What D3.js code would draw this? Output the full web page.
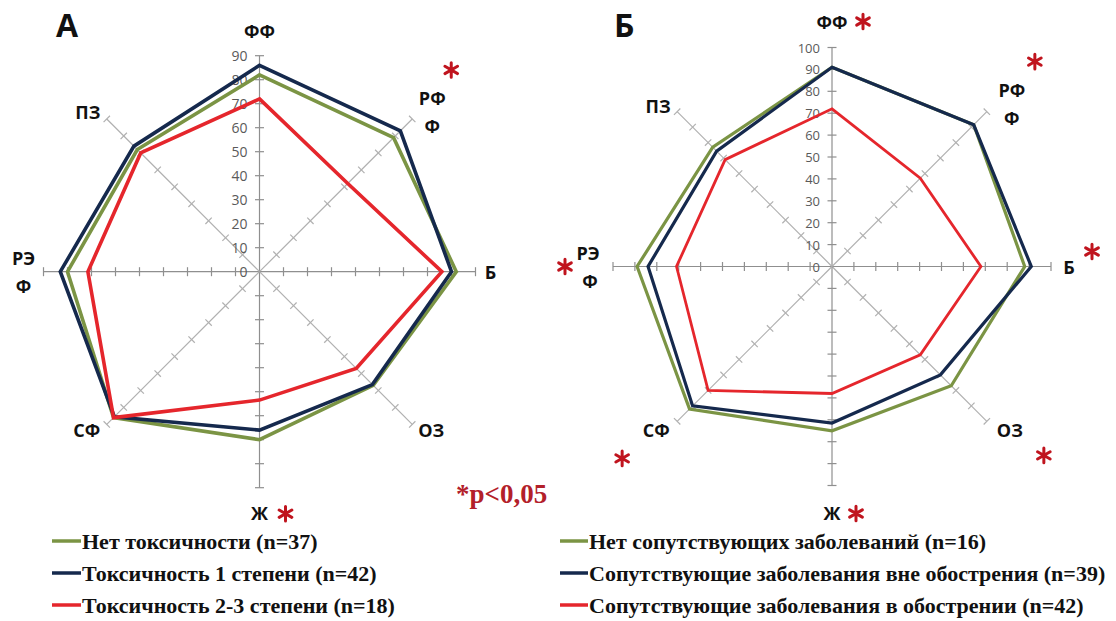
<!DOCTYPE html>
<html>
<head>
<meta charset="utf-8">
<script src="https://cdn.jsdelivr.net/npm/d3@7"></script>
<style>
  body { margin: 0; background: #ffffff; }
  svg { display: block; }
</style>
</head>
<body>
<svg id="chart" width="1116" height="621"></svg>
<script>
// Axes of the radar, clockwise from the top
const axisNames = ["ФФ", "РФФ", "Б", "ОЗ", "Ж", "СФ", "РЭФ", "ПЗ"];
const axisLabelLines = [["ФФ"], ["РФ", "Ф"], ["Б"], ["ОЗ"], ["Ж"], ["СФ"], ["РЭ", "Ф"], ["ПЗ"]];

// Panel А — toxicity groups
const toxNone = [82, 79, 82, 67, 70, 86, 80, 72];
const toxGrade1 = [86, 83, 80, 66.5, 66, 85.5, 83, 74];
const toxGrade23 = [72, 52, 76, 57, 53.5, 86, 71.5, 70];
const ticksA = [0, 10, 20, 30, 40, 50, 60, 70, 80, 90];
const legendA = ["Нет токсичности (n=37)", "Токсичность 1 степени (n=42)", "Токсичность 2-3 степени (n=18)"];
const starAxesA = ["РФФ", "Ж"];

// Panel Б — comorbidity groups
const comNone = [91, 91.5, 88, 77, 75, 92, 89, 77];
const comRemission = [91, 91.5, 91, 70, 71.5, 90, 84, 74.5];
const comExacerbation = [72, 57, 68, 57, 58, 80, 71, 69];
const ticksB = [0, 10, 20, 30, 40, 50, 60, 70, 80, 90, 100];
const legendB = ["Нет сопутствующих заболеваний (n=16)", "Сопутствующие заболевания вне обострения (n=39)", "Сопутствующие заболевания в обострении (n=42)"];
const starAxesB = ["ФФ", "РФФ", "Б", "ОЗ", "Ж", "СФ", "РЭФ"];

const seriesColors = ["#7b9444", "#15294d", "#e5262c"];

const svg = d3.select("#chart");
const starPath = d3.symbol(d3.symbolAsterisk, 150)();

function drawRadar(cfg) {
  const g = svg.append("g").attr("transform", `translate(${cfg.cx},${cfg.cy})`);
  const r = d3.scaleLinear().domain([0, cfg.max]).range([0, cfg.R]);
  const angle = d3.scalePoint().domain(axisNames).range([0, 2 * Math.PI * (axisNames.length - 1) / axisNames.length]);
  const pt = (name, v) => {
    const a = angle(name);
    return [r(v) * Math.sin(a), -r(v) * Math.cos(a)];
  };

  // axes with tick marks
  axisNames.forEach((name, i) => {
    const a = angle(name);
    const diag = i % 2 === 1;
    const col = diag ? "#b0b0b0" : "#8f8f8f";
    const [ex, ey] = pt(name, cfg.max);
    g.append("line").attr("x1", 0).attr("y1", 0).attr("x2", ex).attr("y2", ey)
      .attr("stroke", col).attr("stroke-width", 1.2);
    const px = Math.cos(a), py = Math.sin(a);
    cfg.ticks.filter(v => v > 0).forEach(v => {
      const [tx, ty] = pt(name, v);
      g.append("line")
        .attr("x1", tx - px * 4.5).attr("y1", ty - py * 4.5)
        .attr("x2", tx + px * 4.5).attr("y2", ty + py * 4.5)
        .attr("stroke", col).attr("stroke-width", 1.2);
    });
  });

  // value labels on the first axis
  g.selectAll("text.tick").data(cfg.ticks).join("text")
    .attr("class", "tick")
    .attr("x", -12).attr("y", d => -r(d))
    .attr("text-anchor", "end").attr("dominant-baseline", "central")
    .attr("font-family", "'Open Sans', sans-serif").attr("font-size", cfg.tickFont)
    .attr("fill", "#5a5a5a")
    .text(d => d);

  // series polygons
  const line = d3.lineRadial()
    .angle((d, i) => angle(axisNames[i]))
    .radius(d => r(d))
    .curve(d3.curveLinearClosed);
  cfg.series.forEach((vals, k) => {
    g.append("path").attr("d", line(vals))
      .attr("fill", "none").attr("stroke", seriesColors[k])
      .attr("stroke-width", cfg.widths[k]).attr("stroke-linejoin", "miter");
  });

  // axis captions
  axisNames.forEach((name, i) => {
    const [ex, ey] = pt(name, cfg.max);
    const [ox, oy] = cfg.labelOffsets[i];
    const lines = axisLabelLines[i];
    const lh = 28;
    lines.forEach((t, j) => {
      g.append("text")
        .attr("x", ex + ox + (cfg.lineShift[i] ? cfg.lineShift[i][j] : 0))
        .attr("y", ey + oy + (j - (lines.length - 1) / 2) * lh)
        .attr("text-anchor", "middle").attr("dominant-baseline", "central")
        .attr("font-family", "'Open Sans', sans-serif").attr("font-weight", 700)
        .attr("font-size", 18).attr("fill", "#111")
        .text(t);
    });
  });

  // significance marks
  cfg.stars.forEach(name => {
    const i = axisNames.indexOf(name);
    const [ex, ey] = pt(name, cfg.max);
    const [sx, sy] = cfg.starOffsets[i];
    g.append("path").attr("d", starPath)
      .attr("transform", `translate(${ex + sx},${ey + sy})`)
      .attr("fill", "none").attr("stroke", "#c0141e")
      .attr("stroke-width", 3).attr("stroke-linecap", "round");
  });

  // panel letter
  svg.append("text").attr("x", cfg.letterX).attr("y", 37)
    .attr("font-family", "'Open Sans', sans-serif").attr("font-weight", 700)
    .attr("font-size", 32).attr("fill", "#111")
    .text(cfg.letter);

  // legend
  const lg = svg.append("g");
  cfg.legend.forEach((t, k) => {
    const y = cfg.legendY + k * cfg.legendStep;
    lg.append("line").attr("x1", cfg.legendX).attr("x2", cfg.legendX + cfg.swatch)
      .attr("y1", y).attr("y2", y)
      .attr("stroke", seriesColors[k]).attr("stroke-width", 3.5);
    lg.append("text").attr("x", cfg.legendX + cfg.swatch + 1).attr("y", y)
      .attr("dominant-baseline", "central")
      .attr("font-family", "'Liberation Serif', 'Times New Roman', serif").attr("font-weight", 700)
      .attr("font-size", 22).attr("fill", "#111")
      .text(t);
  });
}

drawRadar({
  cx: 259.5, cy: 271.7, R: 216, max: 90, ticks: ticksA, tickFont: 14,
  series: [toxNone, toxGrade1, toxGrade23], widths: [3.6, 3.6, 3.6],
  labelOffsets: [[0, -25], [20, -7], [15, 0], [19, 6], [0, 25], [-20, 6], [-20, 0], [-19, -7]],
  lineShift: {},
  stars: starAxesA,
  starOffsets: [[0, 0], [39, -49], [0, 0], [0, 0], [26, 26], [0, 0], [0, 0], [0, 0]],
  letter: "А", letterX: 56,
  legend: legendA, legendX: 52, legendY: 541, legendStep: 32, swatch: 29
});

drawRadar({
  cx: 832, cy: 266.5, R: 219, max: 100, ticks: ticksB, tickFont: 13,
  series: [comNone, comRemission, comExacerbation], widths: [3.2, 3.2, 2.8],
  labelOffsets: [[0, -26], [25, -8], [18, 0], [23, 9], [0, 27], [-21, 9], [-24, 0], [-19, -6]],
  lineShift: {6: [-1, 1]},
  stars: starAxesB,
  starOffsets: [[31, -26], [48, -50], [41, -15], [57, 34], [24, 28], [-55, 37], [-48, 0], [0, 0]],
  letter: "Б", letterX: 614,
  legend: legendB, legendX: 560, legendY: 541, legendStep: 32, swatch: 28
});

// significance note
svg.append("text").attr("x", 456).attr("y", 503)
  .attr("font-family", "'Liberation Serif', 'Times New Roman', serif").attr("font-weight", 700)
  .attr("font-size", 27).attr("fill", "#b3202a")
  .text("*p<0,05");
</script>
</body>
</html>
